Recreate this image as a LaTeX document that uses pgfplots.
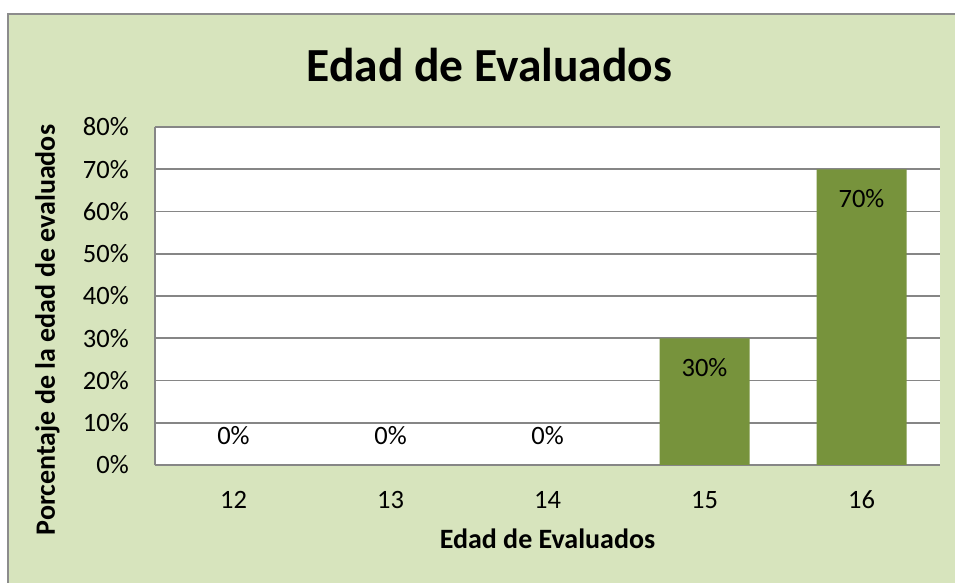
\documentclass[border=0pt]{standalone}
\usepackage{fontspec}
\setmainfont{Carlito}
\usepackage{pgfplots}
\pgfplotsset{compat=1.18}

\definecolor{chartbg}{HTML}{D7E4BD}
\definecolor{barcol}{HTML}{77933C}
\definecolor{gridcol}{HTML}{868686}
\definecolor{framecol}{HTML}{8C8C8C}

\begin{document}
\begin{tikzpicture}
% chart area, cut off at the right and at the bottom
\useasboundingbox (0bp,0bp) rectangle (955bp,583bp);
\fill[chartbg] (8bp,0bp) rectangle (955bp,569bp);
\draw[framecol,line width=2bp] (8bp,0bp) -- (8bp,569bp) -- (955bp,569bp);

\begin{axis}[
  at={(155bp,118bp)},anchor=south west,
  scale only axis,width=785bp,height=338bp,
  xmin=-0.5,xmax=4.5,ymin=0,ymax=80,
  axis background/.style={fill=white},
  axis x line*=bottom,axis y line*=left,
  axis line style={gridcol,line width=1.6bp,-},
  xtick={0,1,2,3,4},xticklabels={12,13,14,15,16},
  ytick={0,10,...,80},
  yticklabels={0\%,10\%,20\%,30\%,40\%,50\%,60\%,70\%,80\%},
  major tick length=0pt,
  ymajorgrids,grid style={gridcol,line width=1.6bp},
  tick label style={font=\fontsize{26.5bp}{31bp}\selectfont},
  yticklabel style={inner sep=0pt,xshift=-26bp},
  xticklabel style={anchor=base,inner sep=0pt,yshift=-43bp},
  title={Edad de Evaluados},
  title style={font=\fontsize{47.5bp}{55bp}\selectfont\bfseries,
    at={(axis description cs:0.426,1.118)},anchor=base},
  xlabel={Edad de Evaluados},
  xlabel style={font=\fontsize{28bp}{33bp}\selectfont\bfseries,
    at={(axis description cs:0.5,-0.2485)},anchor=base},
  ylabel={Porcentaje de la edad de evaluados},
  ylabel style={font=\fontsize{28bp}{33bp}\selectfont\bfseries,
    at={(axis description cs:-0.1274,0.3994)},anchor=base},
  ybar,bar width=90bp,bar shift=0pt,
  /pgf/number format/assume math mode=true,
  nodes near coords={\pgfmathprintnumber{\pgfplotspointmeta}\%},
  every node near coord/.append style={font=\fontsize{26.5bp}{31bp}\selectfont,
    anchor=base,inner sep=0pt},
]
% ages 15 and 16
\addplot[fill=barcol,draw=none,
  every node near coord/.append style={yshift=-38bp}]
  coordinates {(3,30) (4,70)};
% ages 12, 13 and 14
\addplot[fill=none,draw=none,
  every node near coord/.append style={yshift=20bp}]
  coordinates {(0,0) (1,0) (2,0)};
\end{axis}
\end{tikzpicture}
\end{document}
